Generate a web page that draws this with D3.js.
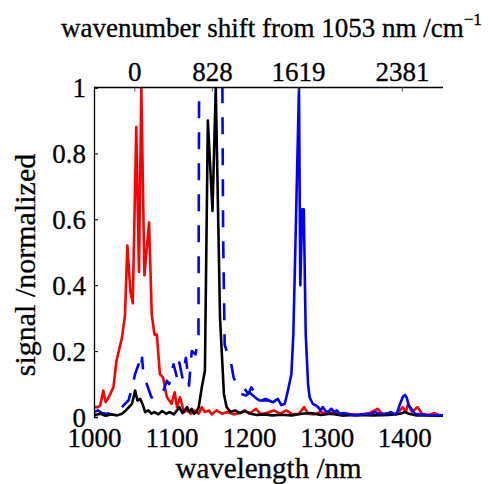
<!DOCTYPE html>
<html>
<head>
<meta charset="utf-8">
<script src="https://cdn.jsdelivr.net/npm/d3@7/dist/d3.min.js"></script>
<style>
  body { margin: 0; background: #fff; }
  text { font-family: "Liberation Serif", "Times New Roman", serif; fill: #000; stroke: #000; stroke-width: 0.3px; }
</style>
</head>
<body>
<svg id="chart" width="491" height="484"></svg>
<script>
// axis ticks
const wlTicks = [1000, 1100, 1200, 1300, 1400];
const yTicks = [0, 0.2, 0.4, 0.6, 0.8, 1];
const shiftLabels = ["0", "828", "1619", "2381"];
const shiftPos = [1052, 1152, 1263, 1397]; // wavelength where each shift label sits

// [wavelength nm, normalized signal]
const redSeries = [[1000,0.03],[1005,0.03],[1008,0.035],[1012,0.08],[1015,0.045],[1019,0.06],[1025,0.09],
  [1029,0.17],[1033,0.21],[1036,0.24],[1040,0.31],[1043,0.52],[1047,0.38],[1050,0.345],[1054.5,0.88],
  [1058,0.44],[1061,1.0],[1065,0.43],[1071,0.59],[1074.5,0.31],[1078,0.25],[1081,0.25],[1085,0.13],
  [1089,0.12],[1094,0.06],[1100,0.04],[1104,0.075],[1107,0.03],[1111,0.06],[1116,0.015],[1120,0.02],
  [1125,0.01],[1130,0.02],[1135,0.01],[1139,0.03],[1143,0.015],[1148,0.02],[1152,0.008],[1158,0.02],
  [1165,0.01],[1172,0.015],[1180,0.008],[1188,0.012],[1194,0.02],[1200,0.01],[1209,0.025],[1215,0.008],
  [1222,0.012],[1232,0.02],[1240,0.01],[1248,0.02],[1256,0.008],[1264,0.01],[1271,0.03],[1276,0.01],
  [1284,0.008],[1292,0.015],[1300,0.01],[1310,0.015],[1320,0.005],[1332,0.008],[1345,0.006],[1355,0.012],
  [1366,0.025],[1372,0.008],[1382,0.01],[1390,0.008],[1398,0.03],[1402,0.015],[1405,0.04],[1410,0.015],
  [1417,0.03],[1423,0.01],[1432,0.006],[1439,0.012],[1445,0.005],[1450,0.005]];

const blackSeries = [[1000,0.005],[1008,0.01],[1015,0.004],[1022,0.008],[1030,0.005],[1036,0.01],[1041,0.02],
  [1045,0.03],[1049,0.04],[1053,0.08],[1056,0.05],[1059.5,0.055],[1062.5,0.04],[1066,0.015],[1070,0.02],
  [1074,0.01],[1078,0.015],[1083,0.008],[1088,0.018],[1093,0.01],[1098,0.015],[1103,0.008],[1107,0.02],
  [1110,0.03],[1114,0.012],[1117,0.02],[1120,0.03],[1123,0.015],[1126,0.025],[1129,0.01],[1132,0.015],
  [1135,0.03],[1139,0.09],[1143,0.14],[1146.8,0.90],[1152.8,0.625],[1157,1.0],[1162.5,0.30],[1167.5,0.07],
  [1171,0.03],[1176,0.015],[1182,0.02],[1188,0.012],[1195,0.018],[1202,0.01],[1210,0.006],[1220,0.008],
  [1230,0.005],[1242,0.007],[1255,0.005],[1268,0.01],[1280,0.012],[1292,0.006],[1305,0.01],[1320,0.005],
  [1340,0.006],[1360,0.005],[1380,0.006],[1395,0.01],[1401,0.015],[1406,0.01],[1415,0.005],[1430,0.005],
  [1450,0.004]];

const blueDashSeries = [[1000,0.015],[1005,0.02],[1010,0.012],[1016,0.01],[1022,0.012],[1028,0.015],[1032,0.02],
  [1036,0.03],[1040,0.04],[1044.5,0.05],[1048,0.08],[1053,0.13],[1057.5,0.16],[1060,0.14],[1062,0.18],
  [1064,0.12],[1068,0.10],[1074,0.06],[1079,0.055],[1085,0.07],[1089.5,0.08],[1094,0.11],[1097,0.10],
  [1102.5,0.16],[1107,0.12],[1110,0.165],[1114,0.12],[1118.5,0.18],[1122.5,0.095],[1126,0.20],[1131,0.19],
  [1134.7,0.25],[1136,1.5],[1150,1.8],[1164.5,1.5],[1166.5,0.55],[1168.5,0.22],[1171,0.20],[1175.5,0.18],
  [1180,0.12],[1184,0.10],[1188,0.09],[1192,0.09],[1196,0.08],[1199,0.07],[1203,0.09],[1207,0.075],
  [1210,0.07],[1216,0.05],[1221,0.055],[1226,0.05]];

const blueSeries = [[1190,0.07],[1196,0.065],[1200,0.075],[1205,0.065],[1210,0.055],[1214,0.05],[1220,0.05],
  [1225,0.05],[1231,0.045],[1237,0.055],[1241.5,0.036],[1246,0.04],[1250,0.08],[1254.5,0.13],[1257,0.25],
  [1260,0.55],[1264.3,1.0],[1266,0.40],[1268.5,0.63],[1270.5,0.63],[1273,0.25],[1276,0.10],[1278,0.06],
  [1282,0.04],[1286,0.035],[1289,0.03],[1292,0.02],[1295,0.03],[1299.5,0.015],[1303,0.018],[1306,0.025],
  [1310,0.015],[1313,0.02],[1317,0.01],[1322,0.012],[1327.5,0.01],[1333,0.006],[1338,0.005],[1345,0.008],
  [1351,0.01],[1356,0.008],[1361.8,0.015],[1368,0.01],[1375,0.01],[1380,0.012],[1383,0.015],[1388,0.008],
  [1391,0.015],[1394,0.036],[1398,0.06],[1401,0.067],[1403,0.06],[1406,0.035],[1409,0.025],[1414,0.01],
  [1420,0.008],[1428,0.006],[1437,0.005],[1444,0.006],[1450,0.005]];

const svg = d3.select("#chart");
const mLeft = 94, mRight = 443, mTop = 87.5, mBottom = 417;
const serif = "Liberation Serif, Times New Roman, serif";

const x = d3.scaleLinear().domain([1000, 1450]).range([mLeft, mRight]);
const y = d3.scaleLinear().domain([0, 1]).range([mBottom, mTop]);

svg.append("clipPath").attr("id", "plotclip")
  .append("rect").attr("x", mLeft).attr("y", mTop).attr("width", mRight - mLeft + 2).attr("height", mBottom - mTop + 4);

const line = d3.line().x(d => x(d[0])).y(d => y(d[1]));
const plot = svg.append("g").attr("clip-path", "url(#plotclip)");

// drawing order matters for overlaps
const layers = [
  {data: redSeries, color: "#ff0000", dash: null},
  {data: blueDashSeries, color: "#0000ff", dash: "17,14"},
  {data: blackSeries, color: "#000000", dash: null},
  {data: blueSeries, color: "#0000ff", dash: null}
];
plot.selectAll("path").data(layers).join("path")
  .attr("d", d => line(d.data))
  .attr("fill", "none")
  .attr("stroke", d => d.color)
  .attr("stroke-width", 2.6)
  .attr("stroke-linejoin", "round")
  .attr("stroke-dasharray", d => d.dash);

// left axis
const yAxis = svg.append("g").attr("transform", `translate(${mLeft},0)`)
  .call(d3.axisLeft(y).tickValues(yTicks).tickFormat(d => String(d)).tickSize(-4).tickPadding(8))
  .attr("font-family", serif).attr("font-size", 27);
yAxis.select(".domain").attr("stroke", "#000").attr("stroke-width", 1.3);
yAxis.selectAll(".tick line").attr("stroke", "#000");
yAxis.selectAll(".tick text").attr("dy", 9);

// bottom labels only (no axis line)
const xAxis = svg.append("g").attr("transform", `translate(0,${mBottom})`)
  .call(d3.axisBottom(x).tickValues(wlTicks).tickFormat(d => String(d)).tickSize(0).tickPadding(0))
  .attr("font-family", serif).attr("font-size", 27);
xAxis.select(".domain").remove();
xAxis.selectAll(".tick text").attr("y", 30).attr("dy", 0);

// top axis with wavenumber shift labels
const topAxis = svg.append("g").attr("transform", `translate(0,${mTop})`)
  .call(d3.axisTop(x).tickValues(shiftPos).tickFormat((d, i) => shiftLabels[i]).tickSize(-4).tickPadding(0))
  .attr("font-family", serif).attr("font-size", 27);
topAxis.select(".domain").attr("stroke", "#000").attr("stroke-width", 1.3)
  .attr("d", `M${mLeft},0H${mRight}`);
topAxis.selectAll(".tick line").attr("stroke", "#555");
topAxis.selectAll(".tick text").attr("y", -7).attr("dy", 0);

// titles
svg.append("text").attr("x", (mLeft + mRight) / 2).attr("y", 478)
  .attr("text-anchor", "middle").attr("font-size", 29).text("wavelength /nm");

svg.append("text").attr("transform", "translate(35,265) rotate(-90)")
  .attr("text-anchor", "middle").attr("font-size", 30).text("signal /normalized");

const ttl = svg.append("text").attr("x", 61).attr("y", 37).attr("font-size", 27);
ttl.append("tspan").text("wavenumber shift from 1053 nm /cm");
ttl.append("tspan").attr("dy", -12).attr("font-size", 17).text("\u22121");
</script>
</body>
</html>
